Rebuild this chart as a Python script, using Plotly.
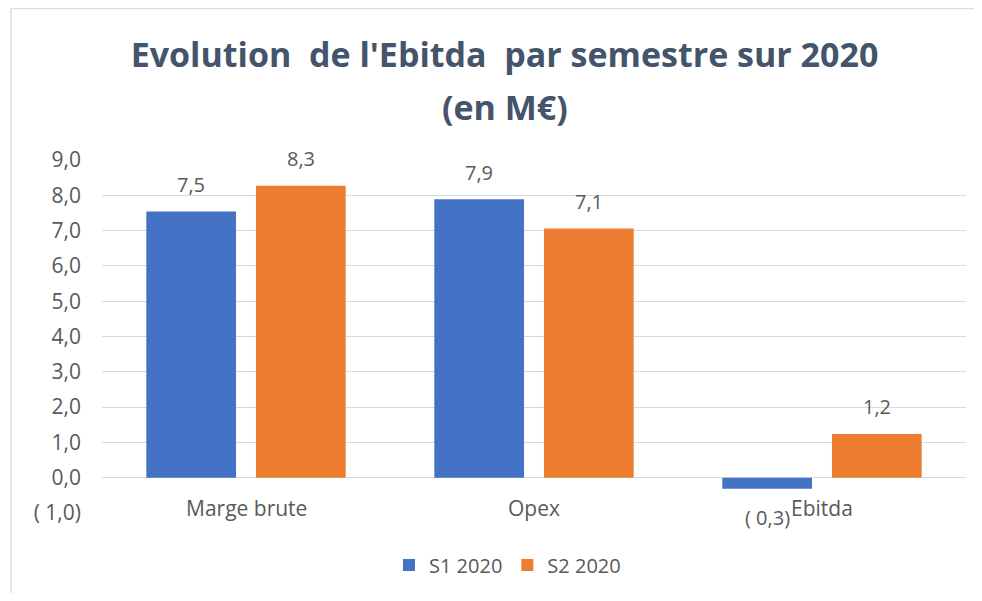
import plotly.graph_objects as go

categories = ["Marge brute", "Opex", "Ebitda"]
s1_values = [7.54, 7.89, -0.31]
s2_values = [8.27, 7.06, 1.24]
series_names = ["S1 2020", "S2 2020"]
tick_values = [-1, 0, 1, 2, 3, 4, 5, 6, 7, 8, 9]
title_line1 = "Evolution  de l'Ebitda  par semestre sur 2020"
title_line2 = "(en M€)"


def fmt(v):
    s = f"{abs(v):.1f}".replace(".", ",")
    return f"( {s})" if v < 0 else s


tick_labels = [fmt(v) for v in tick_values]

BLUE = "#4472C4"
ORANGE = "#ED7D31"
GRAY = "#595959"
TITLE_C = "#44546A"
FONT = "Open Sans"

# the page body has an 8px margin, so the figure is sized to fit inside it
W, H = 966, 585
L, R, T, B = 94, 8, 152, 80
PW, PH = W - L - R, H - T - B

fig = go.Figure()
fig.add_trace(go.Bar(x=categories, y=s1_values, name=series_names[0],
                     marker=dict(color=BLUE, line=dict(width=0))))
fig.add_trace(go.Bar(x=categories, y=s2_values, name=series_names[1],
                     marker=dict(color=ORANGE, line=dict(width=0))))

annotations = []
for vals, shift in ((s1_values, -54.8), (s2_values, 54.8)):
    for c, v in zip(categories, vals):
        annotations.append(dict(x=c, y=v, xref="x", yref="y", text=fmt(v),
                                showarrow=False, xshift=shift,
                                yshift=27 if v >= 0 else -29,
                                yanchor="middle",
                                font=dict(family=FONT, size=20, color=GRAY)))
for c in categories:
    annotations.append(dict(x=c, y=-0.86, xref="x", yref="y", text=c,
                            showarrow=False, yanchor="middle",
                            font=dict(family=FONT, size=21, color=GRAY)))
annotations.append(dict(x=(497 - L) / PW, y=1 + (T - 99) / PH,
                        xref="paper", yref="paper", text=title_line2,
                        showarrow=False, xanchor="center", yanchor="middle",
                        font=dict(family=FONT, size=34, color=TITLE_C,
                                  weight="bold")))

fig.update_layout(
    width=W, height=H,
    margin=dict(l=L, r=R, t=T, b=B),
    paper_bgcolor="white", plot_bgcolor="white",
    title=dict(text=title_line1, x=496.5 / W, xanchor="center",
               y=1 - 47 / H, yanchor="middle",
               font=dict(family=FONT, size=34, color=TITLE_C, weight="bold")),
    barmode="group", bargap=0.2385, bargroupgap=0.182,
    showlegend=True,
    legend=dict(orientation="h", x=(499.5 - L) / PW, xanchor="center",
                y=-(557 - (H - B)) / PH, yanchor="middle",
                font=dict(family=FONT, size=20, color=GRAY),
                itemwidth=30, tracegroupgap=0),
    annotations=annotations,
    shapes=[
        dict(type="line", xref="paper", yref="paper",
             x0=(3 - L) / PW, x1=(3 - L) / PW, y0=-(H - T) / PH - 0.1,
             y1=1 + (T - 0.5) / PH,
             line=dict(color="#DCDCDC", width=1.5), layer="below"),
        dict(type="line", xref="paper", yref="paper",
             x0=(3 - L) / PW, x1=1 + R / PW, y0=1 + (T - 0.5) / PH,
             y1=1 + (T - 0.5) / PH,
             line=dict(color="#DCDCDC", width=1.5), layer="below"),
    ],
)
fig.update_xaxes(showticklabels=False, showgrid=False, showline=False,
                 ticks="")
fig.update_yaxes(range=[-1, 9], tickvals=tick_values, ticktext=tick_labels,
                 showgrid=True, gridcolor="#D9D9D9", gridwidth=1,
                 zeroline=True, zerolinecolor="#D9D9D9", zerolinewidth=1,
                 showline=False, ticks="", ticklabelstandoff=20,
                 tickfont=dict(family=FONT, size=21, color=GRAY))

fig.write_html("out.html")
